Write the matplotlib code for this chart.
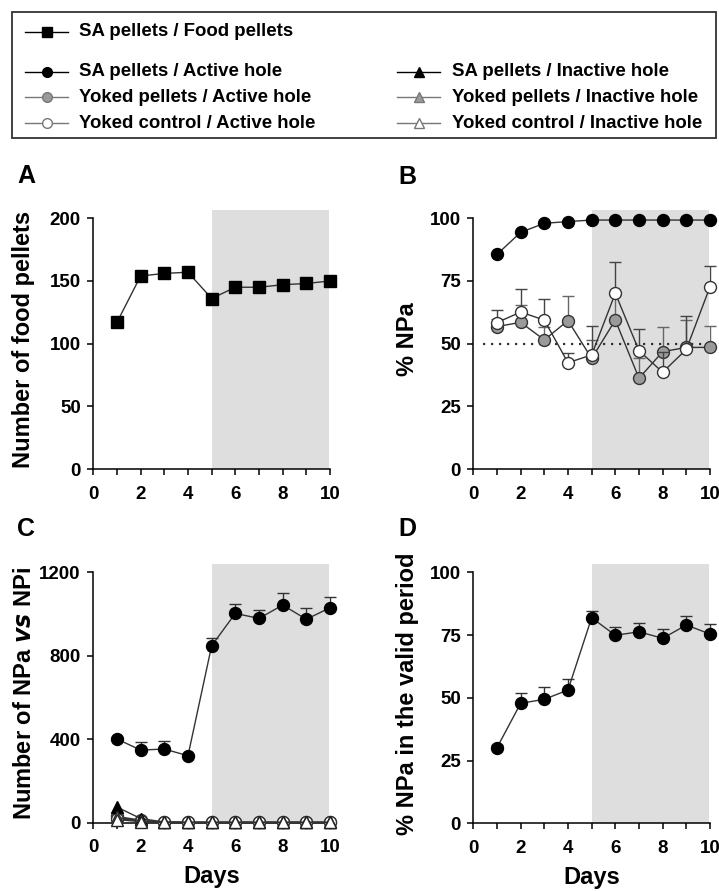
import matplotlib.pyplot as plt
import numpy as np
from matplotlib.patches import Rectangle

plt.rcParams['font.family'] = ['Liberation Sans', 'DejaVu Sans']
plt.rcParams['font.weight'] = 'bold'

# dados
days = [1, 2, 3, 4, 5, 6, 7, 8, 9, 10]

# A - pellets de comida
food_pellets = [117, 154, 156, 157, 136, 145, 145, 147, 148, 150]

# B - % NPa
sa_pct = [85.6, 94.4, 98.0, 98.7, 99.3, 99.3, 99.3, 99.3, 99.3, 99.3]
yp_pct = [56.8, 58.5, 51.5, 59.2, 44.1, 59.4, 36.2, 46.8, 48.5, 48.5]
yp_pct_err = [3.0, 7.0, 5.0, 10.0, 7.4, 10.0, 7.9, 10.0, 11.0, 8.7]
yc_pct = [58.4, 62.6, 59.4, 42.4, 45.5, 70.1, 47.2, 38.6, 47.7, 72.7]
yc_pct_err = [5.0, 9.3, 8.3, 3.9, 11.5, 12.6, 8.5, 8.0, 13.3, 8.4]

# C - numero de NPa vs NPi
sa_active = [401, 348, 353, 321, 848, 1003, 979, 1043, 975, 1030]
sa_active_err = [10, 40, 38, 10, 35, 45, 40, 59, 55, 53]
sa_inactive = [75, 20, 3, 2, 2, 2, 2, 2, 2, 2]
yp_active = [30, 12, 3, 2, 2, 2, 2, 2, 2, 2]
yc_active = [20, 8, 2, 1, 1, 1, 1, 1, 1, 1]
yp_inactive = [25, 10, 2, 1, 1, 1, 1, 1, 1, 1]
yc_inactive = [15, 5, 1, 1, 1, 1, 1, 1, 1, 1]

# D - % NPa no periodo valido
valid_pct = [30.1, 47.8, 49.4, 53.1, 81.9, 74.9, 76.3, 73.7, 79.0, 75.4]
valid_pct_err = [1.0, 4.0, 4.8, 4.3, 2.7, 3.4, 3.6, 3.6, 3.7, 3.9]

W, H = 719, 891
fig = plt.figure(figsize=(W / 100, H / 100), dpi=100)

LINE = '#333333'
GRAY = '#9a9a9a'
SHADE = '#dedede'
MS = 8.6


def make_ax(left, top0, bottom0, ymax, top_extra, yticks, ylabel, lab_x):
    # left, top0 (pixel do ymax), bottom0 (pixel do 0)
    px_per = (bottom0 - top0) / ymax
    top = top0 - top_extra * px_per
    ax = fig.add_axes([left / W, (H - bottom0) / H, 236.7 / W, (bottom0 - top) / H])
    ax.set_xlim(0, 10)
    ax.set_ylim(0, ymax + top_extra)
    for s in ['top', 'right']:
        ax.spines[s].set_visible(False)
    ax.spines['left'].set_bounds(0, ymax)
    ax.spines['left'].set_linewidth(1.1)
    ax.spines['bottom'].set_linewidth(1.1)
    ax.set_yticks(yticks)
    ax.set_xticks([0, 2, 4, 6, 8, 10])
    ax.set_xticks([1, 3, 5, 7, 9], minor=True)
    ax.tick_params(axis='both', which='both', labelsize=13.5, width=1.1)
    ax.tick_params(axis='x', which='both', length=4, pad=8)
    ax.tick_params(axis='y', length=4, pad=5)
    for lab in ax.get_xticklabels() + ax.get_yticklabels():
        lab.set_fontweight('bold')
    ax.set_ylabel(ylabel, fontsize=17, fontweight='bold')
    ax.yaxis.set_label_coords(lab_x, 0.5)
    ax.add_patch(Rectangle((5, 0), 4.95, ymax + top_extra, facecolor=SHADE,
                           edgecolor='none', zorder=0))
    return ax


# A
axA = make_ax(93.3, 218.3, 469, 200, 7, [0, 50, 100, 150, 200],
              'Number of food pellets', -0.245)
axA.plot(days, food_pellets, color=LINE, lw=1, marker='s', ms=8, mfc='black',
         mec='black', clip_on=False, zorder=3)

# B
axB = make_ax(473.3, 218.3, 469, 100, 3.5, [0, 25, 50, 75, 100], '% NPa', -0.23)
axB.plot([0.4, 10], [50, 50], color='#333333', lw=1.6, ls=(0, (1, 2.6)), zorder=1)
axB.errorbar(days, yp_pct, yerr=[np.zeros(10), yp_pct_err], color=LINE, lw=1,
             ecolor='#666666', elinewidth=1, capsize=4, capthick=1,
             marker='o', ms=MS, mfc=GRAY, mec='#333333', clip_on=False, zorder=3)
axB.errorbar(days, yc_pct, yerr=[np.zeros(10), yc_pct_err], color=LINE, lw=1,
             ecolor='#444444', elinewidth=1, capsize=4, capthick=1,
             marker='o', ms=MS, mfc='white', mec='#333333', clip_on=False, zorder=4)
axB.plot(days, sa_pct, color=LINE, lw=1, marker='o', ms=MS, mfc='black',
         mec='black', clip_on=False, zorder=5)

# C
axC = make_ax(93.3, 572.3, 822.7, 1200, 42, [0, 400, 800, 1200],
              'Number of NPa $\\mathbfit{vs}$ NPi', -0.24)
axC.errorbar(days, sa_active, yerr=[np.zeros(10), sa_active_err], color=LINE, lw=1,
             ecolor='#333333', elinewidth=1, capsize=4, capthick=1,
             marker='o', ms=MS, mfc='black', mec='black', clip_on=False, zorder=5)
axC.plot(days, yp_active, color=LINE, lw=1, marker='o', ms=MS, mfc=GRAY,
         mec='#333333', clip_on=False, zorder=3)
axC.plot(days, yc_active, color=LINE, lw=1, marker='o', ms=MS, mfc='white',
         mec='#333333', clip_on=False, zorder=3)
axC.plot(days, sa_inactive, color=LINE, lw=1, marker='^', ms=MS, mfc='black',
         mec='black', clip_on=False, zorder=4)
axC.plot(days, yp_inactive, color=LINE, lw=1, marker='^', ms=MS, mfc=GRAY,
         mec='#333333', clip_on=False, zorder=4)
axC.plot(days, yc_inactive, color=LINE, lw=1, marker='^', ms=MS, mfc='white',
         mec='#222222', clip_on=False, zorder=4)
axC.set_xlabel('Days', fontsize=17, fontweight='bold')
axC.xaxis.set_label_coords(0.5, -0.165)

# D
axD = make_ax(473.3, 572.3, 823.3, 100, 3.5, [0, 25, 50, 75, 100],
              '% NPa in the valid period', -0.23)
axD.errorbar(days, valid_pct, yerr=[np.zeros(10), valid_pct_err], color=LINE, lw=1,
             ecolor='#333333', elinewidth=1, capsize=4, capthick=1,
             marker='o', ms=MS, mfc='black', mec='black', clip_on=False, zorder=5)
axD.set_xlabel('Days', fontsize=17, fontweight='bold')
axD.xaxis.set_label_coords(0.5, -0.165)

# letras dos paineis
for lab, x, y in [('A', 26, 176), ('B', 407, 177), ('C', 26, 529), ('D', 407, 529)]:
    fig.text(x / W, 1 - y / H, lab, fontsize=18, fontweight='bold',
             ha='center', va='center')

# legenda desenhada a mao
lg = fig.add_axes([0, 1 - 145 / H, 1, 145 / H])
lg.set_xlim(0, W)
lg.set_ylim(145, 0)
lg.axis('off')
lg.add_patch(Rectangle((12, 12), 704, 126, facecolor='white', edgecolor='#333333', lw=1.3))

entries = [
    (25, 79, 32, 's', 'black', 'black', 'SA pellets / Food pellets'),
    (25, 79, 72, 'o', 'black', 'black', 'SA pellets / Active hole'),
    (25, 79, 97, 'o', GRAY, '#777777', 'Yoked pellets / Active hole'),
    (25, 79, 123, 'o', 'white', '#777777', 'Yoked control / Active hole'),
    (397, 452, 72, '^', 'black', 'black', 'SA pellets / Inactive hole'),
    (397, 452, 97, '^', GRAY, '#777777', 'Yoked pellets / Inactive hole'),
    (397, 452, 123, '^', 'white', '#777777', 'Yoked control / Inactive hole'),
]
for x0, xt, y, m, fc, lc, txt in entries:
    lg.plot([x0, x0 + 21.5, x0 + 43], [y, y, y], color=lc, lw=1, marker=m,
            markevery=[1], ms=7, mfc=fc, mec=lc if fc != 'black' else 'black')
    lg.text(xt, y, txt, fontsize=13.4, fontweight='bold', va='center', ha='left')

fig.savefig('out.png', dpi=100)
